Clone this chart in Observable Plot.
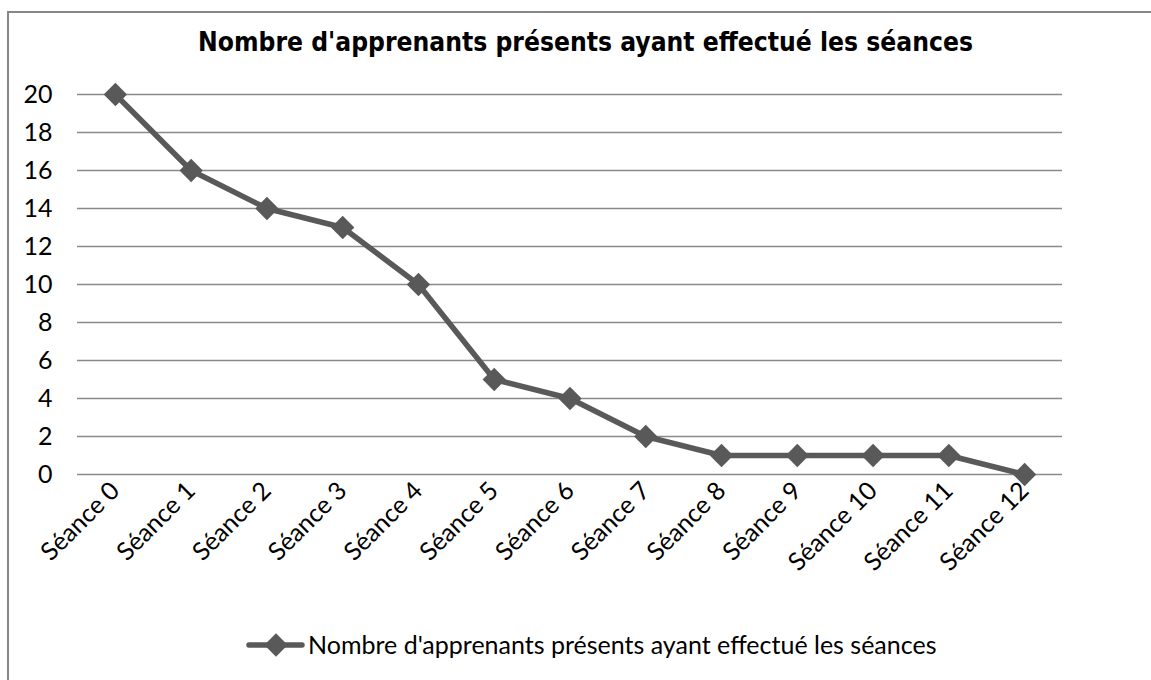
<!DOCTYPE html>
<html>
<head>
<meta charset="utf-8">
<script src="https://cdn.jsdelivr.net/npm/d3@7"></script>
<script src="https://cdn.jsdelivr.net/npm/@observablehq/plot@0.6"></script>
<style>
  html, body { margin: 0; padding: 0; background: #fff; overflow: hidden; }
  #page { position: relative; width: 1151px; height: 680px; overflow: hidden; }
  #frame { position: absolute; left: 7px; top: 11px; width: 1300px; height: 800px;
           border-left: 2px solid #878787; border-top: 2px solid #878787; box-sizing: border-box; }
  #title { position: absolute; left: 10px; width: 1151px; text-align: center; white-space: nowrap;
           font-weight: bold; color: #000; line-height: 1; }
  #chart { position: absolute; left: 0; top: 70px; }
  #legend { position: absolute; left: 0; top: 0; width: 1151px; height: 680px; pointer-events: none; }
  #legend span { position: absolute; white-space: nowrap; color: #000; line-height: 1; }
</style>
</head>
<body>
<div id="page">
  <div id="frame"></div>
  <div id="title"></div>
  <div id="chart"></div>
  <div id="legend"></div>
</div>
<script>
const titleText = "Nombre d'apprenants présents ayant effectué les séances";
const seriesName = "Nombre d'apprenants présents ayant effectué les séances";
const sessions = ["Séance 0", "Séance 1", "Séance 2", "Séance 3", "Séance 4", "Séance 5", "Séance 6",
                  "Séance 7", "Séance 8", "Séance 9", "Séance 10", "Séance 11", "Séance 12"];
const values = [20, 16, 14, 13, 10, 5, 4, 2, 1, 1, 1, 1, 0];
const yTicks = [0, 2, 4, 6, 8, 10, 12, 14, 16, 18, 20];

const data = sessions.map((s, i) => ({session: s, value: values[i]}));

const LABEL_FONT = "Lato, 'Open Sans', 'Noto Sans', sans-serif";
const TITLE_FONT = "'DejaVu Sans Condensed', 'DejaVu Sans', Verdana, sans-serif";

// fit font sizes to the widths measured in the reference
const ctx = document.createElement("canvas").getContext("2d");
function fit(text, family, weight, target) {
  ctx.font = `${weight} 100px ${family}`;
  const w = ctx.measureText(text).width;
  return Math.round(100 * target / w * 10) / 10;
}
const labelSize = fit(seriesName, LABEL_FONT, "normal", 629);
const titleSize = fit(titleText, TITLE_FONT, "bold", 775);

const title = document.getElementById("title");
title.textContent = titleText;
title.style.fontFamily = TITLE_FONT;
title.style.fontSize = titleSize + "px";
title.style.top = (53 - titleSize * 0.93) + "px";

const chart = Plot.plot({
  width: 1151,
  height: 540,
  marginLeft: 77,
  marginRight: 89,
  marginTop: 24,
  marginBottom: 136,
  style: {fontFamily: LABEL_FONT, fontSize: labelSize + "px", color: "#000", background: "transparent", overflow: "visible"},
  x: {type: "point", domain: sessions, padding: 0.5, round: false, label: null, tickSize: 0, tickRotate: -45, tickPadding: 12},
  y: {domain: [0, 20], ticks: yTicks, label: null, tickSize: 0, tickPadding: 25, tickFormat: d => String(d)},
  marks: [
    Plot.ruleY(yTicks, {stroke: "#8a8a8a", strokeWidth: 1.6}),
    Plot.line(data, {x: "session", y: "value", stroke: "#595959", strokeWidth: 5.5, strokeLinejoin: "round"}),
    Plot.dot(data, {x: "session", y: "value", symbol: "diamond2", r: 10.5, fill: "#595959", stroke: "none"})
  ]
});
document.getElementById("chart").appendChild(chart);

// legend
const legend = document.getElementById("legend");
const ns = "http://www.w3.org/2000/svg";
const lsvg = document.createElementNS(ns, "svg");
lsvg.setAttribute("width", 1151);
lsvg.setAttribute("height", 680);
lsvg.style.position = "absolute";
lsvg.style.left = "0"; lsvg.style.top = "0";
const ll = document.createElementNS(ns, "line");
ll.setAttribute("x1", 249); ll.setAttribute("x2", 302);
ll.setAttribute("y1", 645); ll.setAttribute("y2", 645);
ll.setAttribute("stroke", "#595959"); ll.setAttribute("stroke-width", 5.5); ll.setAttribute("stroke-linecap", "round");
lsvg.appendChild(ll);
const ld = document.createElementNS(ns, "path");
const sym = d3.symbol(d3.symbolDiamond2, Math.PI * 110)();
ld.setAttribute("d", sym);
ld.setAttribute("transform", "translate(276,645)");
ld.setAttribute("fill", "#595959");
lsvg.appendChild(ld);
legend.appendChild(lsvg);
const lt = document.createElement("span");
lt.textContent = seriesName;
lt.style.fontFamily = LABEL_FONT;
lt.style.fontSize = labelSize + "px";
lt.style.left = "308px";
lt.style.top = (653 - labelSize * 0.85) + "px";
legend.appendChild(lt);
</script>
</body>
</html>
